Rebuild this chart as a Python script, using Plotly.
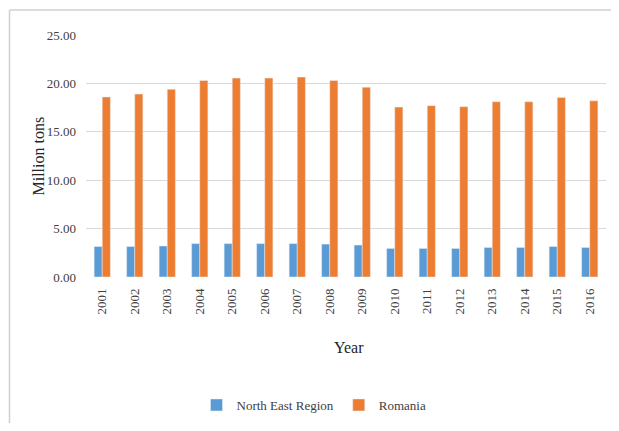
import plotly.graph_objects as go

years = [str(y) for y in range(2001, 2017)]
north_east = [3.15, 3.15, 3.2, 3.45, 3.45, 3.45, 3.45, 3.4, 3.3, 2.95, 2.95, 2.95, 3.05, 3.05, 3.15, 3.05]
romania = [18.6, 18.9, 19.4, 20.3, 20.55, 20.55, 20.65, 20.3, 19.6, 17.55, 17.7, 17.6, 18.1, 18.1, 18.55, 18.2]
y_ticks = [0, 5, 10, 15, 20, 25]
y_tick_labels = ["0.00", "5.00", "10.00", "15.00", "20.00", "25.00"]

font_family = "Liberation Serif, serif"

fig = go.Figure()
fig.add_trace(go.Bar(x=years, y=north_east, name="North East Region", marker_color="#5B9BD5"))
fig.add_trace(go.Bar(x=years, y=romania, name="Romania", marker_color="#ED7D31"))

# page has an 8px body margin; work in page pixels and convert
OFF = 8
W, H = 619 - 2 * OFF, 431 - 2 * OFF
L_page, R_page, T_page, B_page = 86, 606, 35, 278
ml, mt = L_page - OFF, T_page - OFF
mr = W - (R_page - OFF)
mb = H - (B_page - OFF)
pw, ph = R_page - L_page, B_page - T_page

def px_x(x):
    return (x - L_page) / pw

def px_y(y):
    return (B_page - y) / ph

fig.update_layout(
    width=W, height=H,
    margin=dict(l=ml, r=mr, t=mt, b=mb, pad=0),
    paper_bgcolor="white", plot_bgcolor="white",
    barmode="group", bargap=0.5, bargroupgap=0,
    font=dict(family=font_family, color="#404040", size=12),
    showlegend=True,
    legend=dict(orientation="h", x=px_x(314), xanchor="center", y=px_y(405), yanchor="middle",
                font=dict(family=font_family, size=13, color="#404040"),
                itemwidth=30, tracegroupgap=0),
    xaxis=dict(tickangle=-90, showgrid=False, showline=False, ticks="",
               ticklabelstandoff=8,
               tickfont=dict(family=font_family, size=13, color="#404040")),
    yaxis=dict(range=[0, 25], tickvals=y_ticks, ticktext=y_tick_labels,
               showgrid=True, gridcolor="#D9D9D9", gridwidth=1, zeroline=False,
               showline=False, ticks="", ticklabelstandoff=9,
               tickfont=dict(family=font_family, size=13, color="#404040")),
    annotations=[
        dict(text="Million tons", x=px_x(38), y=px_y(157), xref="paper", yref="paper",
             textangle=-90, showarrow=False, font=dict(family=font_family, size=16, color="#262626"),
             xanchor="center", yanchor="middle"),
        dict(text="Year", x=px_x(349), y=px_y(349), xref="paper", yref="paper",
             showarrow=False, font=dict(family=font_family, size=16, color="#262626"),
             xanchor="center", yanchor="middle"),
    ],
    shapes=[
        dict(type="line", xref="paper", yref="paper", x0=px_x(9.5), x1=px_x(619), y0=px_y(10), y1=px_y(10),
             line=dict(color="#D0D0D0", width=1.5)),
        dict(type="line", xref="paper", yref="paper", x0=px_x(9.5), x1=px_x(9.5), y0=px_y(10), y1=px_y(428),
             line=dict(color="#D0D0D0", width=1.5)),
    ],
)

fig.write_html("out.html")
